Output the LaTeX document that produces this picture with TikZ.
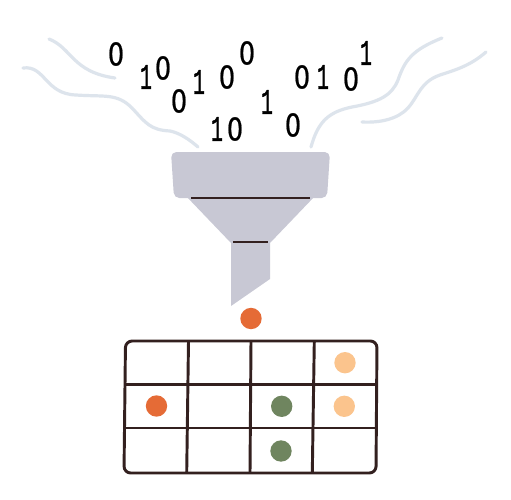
\documentclass[tikz,border=0pt]{standalone}
\usepackage{fontspec}
\setmainfont{Liberation Sans}
\newfontfamily\zerofont{DejaVu Sans}[FakeBold=0.8]
\newfontfamily\onefont{Liberation Mono}[FakeBold=1.6]
\usetikzlibrary{calc}
\definecolor{stream}{HTML}{DDE4EC}
\definecolor{funnel}{HTML}{C8C8D4}
\definecolor{ink}{HTML}{33201F}
\definecolor{rust}{HTML}{E56B36}
\definecolor{sage}{HTML}{6F855F}
\definecolor{peach}{HTML}{FBC48D}
\tikzset{
  x=0.75pt,y=-0.75pt,
  streamline/.style={draw=stream,line width=2.4pt,line cap=round},
  bar/.style={draw=ink,line width=2.1pt},
  gridline/.style={draw=ink,line width=2.2pt},
  dot/.style={circle,inner sep=0pt,minimum size=16pt},
  zerodigit/.style={inner sep=0pt,font=\zerofont\fontsize{23.5}{23.5}\selectfont,text=black,xscale=0.82,yscale=1},
  onedigit/.style={inner sep=0pt,font=\onefont\fontsize{27}{27}\selectfont,text=black,xscale=0.55,yscale=1},
}
\begin{document}
\begin{tikzpicture}
\useasboundingbox (0,0) rectangle (511,500);
\fill[white] (0,0) rectangle (511,500);

% data streams
\draw[streamline] (49,39) .. controls (72,48) and (72,72) .. (115,78);
\draw[streamline] (23,68) .. controls (45,65) and (45,94) .. (76,95)
  .. controls (105,97) and (117,93) .. (132,108)
  .. controls (146,123) and (150,130) .. (170,131)
  .. controls (180,133) and (190,140) .. (198,147);
\draw[streamline] (442,38) .. controls (412,50) and (405,60) .. (398,80)
  .. controls (392,95) and (380,102) .. (352,107)
  .. controls (328,112) and (318,122) .. (311,147);
\draw[streamline] (486,52) .. controls (470,66) and (455,70) .. (440,75)
  .. controls (420,82) and (418,97) .. (408,108)
  .. controls (398,119) and (380,123) .. (362,122);

% binary digits
\node[zerodigit] (d01) at (116,54) {0};
\node[onedigit]  (d02) at (146,77) {1};
\node[zerodigit] (d03) at (163,68) {0};
\node[onedigit]  (d04) at (199,82) {1};
\node[zerodigit] (d05) at (179,101) {0};
\node[zerodigit] (d06) at (227,77) {0};
\node[zerodigit] (d07) at (247,53) {0};
\node[onedigit]  (d08) at (217,129) {1};
\node[zerodigit] (d09) at (235,129) {0};
\node[onedigit]  (d10) at (267,102) {1};
\node[zerodigit] (d11) at (293,125) {0};
\node[zerodigit] (d12) at (302,77) {0};
\node[onedigit]  (d13) at (323,77) {1};
\node[zerodigit] (d14) at (351,79) {0};
\node[onedigit]  (d15) at (366,53) {1};

% funnel body
\fill[funnel] (186,196) -- (231,243) -- (231,306) -- (270,279) -- (270,243) -- (315,196) -- cycle;
\fill[funnel,rounded corners=4pt] (171,152) -- (330,152) -- (327,198) -- (174,198) -- cycle;
\draw[bar] (191,198) -- (310,198);
\draw[bar] (233,242) -- (268,242);

% falling item
\node[dot,fill=rust] (falling) at (251,318.5) {};

% sorting grid
\draw[gridline,rounded corners=5pt] (125.5,341) -- (377,341) -- (376,473) -- (124,473) -- cycle;
\draw[gridline] (125,384.5) -- (377,384.5);
\draw[gridline] (124.5,428) -- (376.5,428);
\draw[gridline] (188.5,341) -- (186.7,473);
\draw[gridline] (251,341) -- (250,473);
\draw[gridline] (314.3,341) -- (312.3,473);

% sorted items
\node[dot,fill=peach] (c14) at (345,362.7) {};
\node[dot,fill=rust]  (c21) at (156.5,406) {};
\node[dot,fill=sage]  (c23) at (281.7,406.3) {};
\node[dot,fill=peach] (c24) at (344.3,406.3) {};
\node[dot,fill=sage]  (c33) at (281,451) {};
\end{tikzpicture}
\end{document}
